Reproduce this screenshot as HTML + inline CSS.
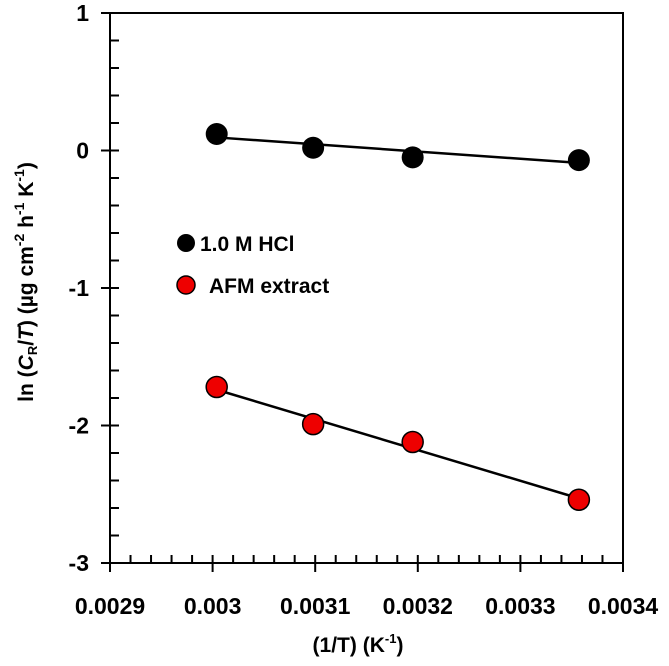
<!DOCTYPE html>
<html><head><meta charset="utf-8"><style>
body{margin:0;background:#fff}
svg text{font-family:"Liberation Sans",Arial,sans-serif;font-weight:bold;fill:#000}
</style></head><body>
<svg id="c" width="669" height="661" viewBox="0 0 669 661">
<g id="axes"></g><g id="marks"></g>
<g>
<circle cx="186" cy="243" r="9" fill="#000"/>
<text x="200" y="251" font-size="21">1.0 M HCl</text>
<circle cx="186" cy="285" r="9" fill="#e00" stroke="#000" stroke-width="1.5"/>
<text x="209" y="293" font-size="21">AFM extract</text>
</g>
<text x="358" y="652" font-size="21" text-anchor="middle">(1/T) (K<tspan font-size="13" dy="-9">-1</tspan><tspan dy="9">)</tspan></text>
<text transform="translate(33,282) rotate(-90)" font-size="21" text-anchor="middle">ln (<tspan font-style="italic">C</tspan><tspan font-size="13" dy="4">R</tspan><tspan dy="-4">/</tspan><tspan font-style="italic">T</tspan>) (µg cm<tspan font-size="14" dy="-9">-2</tspan><tspan dy="9"> h</tspan><tspan font-size="14" dy="-9">-1</tspan><tspan dy="9"> K</tspan><tspan font-size="14" dy="-9">-1</tspan><tspan dy="9">)</tspan></text>
</svg>
<script>
const xTickLabels=["0.0029","0.003","0.0031","0.0032","0.0033","0.0034"];
const yTickLabels=["-3","-2","-1","0","1"];
const invT=[0.003004,0.003098,0.003195,0.003357];
const hclValues=[0.12,0.02,-0.05,-0.07];
const afmValues=[-1.72,-1.99,-2.12,-2.54];
const hclFit=[0.095,-0.09];
const afmFit=[-1.74,-2.53];
const NS="http://www.w3.org/2000/svg";
const X0=110,X1=623,XS=(X1-X0)/0.0005,Y0=563,YS=137.5;
const sx=v=>X0+(v-0.0029)*XS, sy=v=>Y0-(v+3)*YS;
function mk(t,a,p){const e=document.createElementNS(NS,t);for(const k in a)e.setAttribute(k,a[k]);p.appendChild(e);return e;}
const ax=document.getElementById('axes'),mg=document.getElementById('marks');
const box=mk('rect',{x:X0,y:13,width:X1-X0,height:Y0-13,fill:'none',stroke:'#000','stroke-width':2},ax);


for(let i=0;i<=25;i++){const x=sx(0.0029+i*0.00002);const maj=i%5==0;
 mk('line',{x1:x,x2:x,y1:Y0-8,y2:Y0+(maj?9:0),stroke:'#000','stroke-width':2},ax);}
xTickLabels.forEach((l,i)=>{const t=mk('text',{x:sx(0.0029+i*0.0001),y:614,'font-size':23,'text-anchor':'middle'},ax);t.textContent=l;
 
 });
for(let i=0;i<=20;i++){const y=sy(-3+i*0.2);const maj=i%5==0;
 mk('line',{x1:maj?X0-9:X0,x2:X0+9,y1:y,y2:y,stroke:'#000','stroke-width':2},ax);}
yTickLabels.forEach((l,i)=>{const t=mk('text',{x:89,y:sy(+l)+8,'font-size':23,'text-anchor':'end'},ax);t.textContent=l;
 
 });
function fit(vals,name){const l=mk('line',{x1:sx(invT[0]),y1:sy(vals[0]),x2:sx(invT[3]),y2:sy(vals[1]),stroke:'#000','stroke-width':2.5},mg);
 
 }
fit(hclFit,'hcl-fit-line');fit(afmFit,'afm-fit-line');
invT.forEach((v,i)=>{const a=mk('circle',{cx:sx(v),cy:sy(hclValues[i]),r:11,fill:'#000'},mg);
 
 
 const b=mk('circle',{cx:sx(v),cy:sy(afmValues[i]),r:10.5,fill:'#e00',stroke:'#000','stroke-width':1.5},mg);
 
 });
</script>
</body></html>
